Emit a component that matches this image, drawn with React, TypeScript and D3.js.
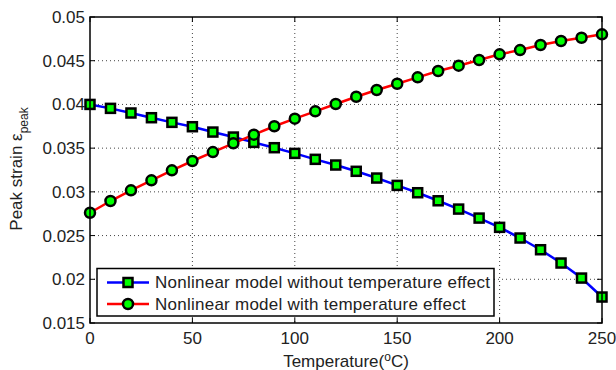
import React from "react";
import * as d3 from "d3";

const temps = [0, 10, 20, 30, 40, 50, 60, 70, 80, 90, 100, 110, 120, 130, 140, 150, 160, 170, 180, 190, 200, 210, 220, 230, 240, 250];
const withoutTemp = [0.0400, 0.03955, 0.03902, 0.03848, 0.03795, 0.03745, 0.03684, 0.03627, 0.03566, 0.03505, 0.0344, 0.03372, 0.03307, 0.03235, 0.03158, 0.03074, 0.0299, 0.02898, 0.02803, 0.027, 0.02594, 0.02472, 0.02338, 0.02186, 0.02014, 0.01797];
const withTemp = [0.02761, 0.02895, 0.03017, 0.03132, 0.03246, 0.03353, 0.03455, 0.03555, 0.03654, 0.0375, 0.03837, 0.03921, 0.04005, 0.04088, 0.04165, 0.04237, 0.0431, 0.04382, 0.04443, 0.04508, 0.04573, 0.04622, 0.0468, 0.04725, 0.04763, 0.04802];
const xTicks = [0, 50, 100, 150, 200, 250];
const yTicks = [0.015, 0.02, 0.025, 0.03, 0.035, 0.04, 0.045, 0.05];
const yTickLabels = ["0.015", "0.02", "0.025", "0.03", "0.035", "0.04", "0.045", "0.05"];
const legendLabels = ["Nonlinear model without temperature effect", "Nonlinear model with temperature effect"];

const W = 616, H = 370;
const L = 90, R = 602, T = 17, B = 323;
const FONT = "Liberation Sans, Arial, Helvetica, sans-serif";
const FS = 17;

export default function App() {
  const x = d3.scaleLinear().domain([0, 250]).range([L, R]);
  const y = d3.scaleLinear().domain([0.015, 0.05]).range([B, T]);
  const line = d3.line<number>().x((_, i) => x(temps[i])).y((d) => y(d));
  const tl = 5;
  return (
    <svg width={W} height={H} style={{ position: "absolute", left: 0, top: 0 }} fontFamily={FONT}>
      <rect x={0} y={0} width={W} height={H} fill="#fff" />
      {/* grid */}
      {xTicks.slice(1, -1).map((t) => (
        <line key={"gx" + t} x1={x(t)} x2={x(t)} y1={T} y2={B} stroke="#444" strokeWidth={1} strokeDasharray="1,3" />
      ))}
      {yTicks.slice(1, -1).map((t) => (
        <line key={"gy" + t} x1={L} x2={R} y1={y(t)} y2={y(t)} stroke="#444" strokeWidth={1} strokeDasharray="1,3" />
      ))}
      {/* ticks */}
      {xTicks.map((t) => (
        <g key={"tx" + t}>
          <line x1={x(t)} x2={x(t)} y1={B} y2={B - tl} stroke="#000" />
          <line x1={x(t)} x2={x(t)} y1={T} y2={T + tl} stroke="#000" />
          <text x={x(t)} y={B + 21} textAnchor="middle" fontSize={FS} fill="#222">{t}</text>
        </g>
      ))}
      {yTicks.map((t, i) => (
        <g key={"ty" + t}>
          <line x1={L} x2={L + tl} y1={y(t)} y2={y(t)} stroke="#000" />
          <line x1={R} x2={R - tl} y1={y(t)} y2={y(t)} stroke="#000" />
          <text x={L - 5} y={y(t) + 6} textAnchor="end" fontSize={FS} fill="#222">{yTickLabels[i]}</text>
        </g>
      ))}
      {/* series */}
      <path d={line(withoutTemp) || ""} fill="none" stroke="#0000ff" strokeWidth={2.5} />
      {withoutTemp.map((v, i) => (
        <rect key={"s" + i} x={x(temps[i]) - 4.5} y={y(v) - 4.5} width={9} height={9} fill="#00ff00" stroke="#000" strokeWidth={2.5} />
      ))}
      <path d={line(withTemp) || ""} fill="none" stroke="#ff0000" strokeWidth={2.5} />
      {withTemp.map((v, i) => (
        <circle key={"c" + i} cx={x(temps[i])} cy={y(v)} r={5} fill="#00ff00" stroke="#000" strokeWidth={2.5} />
      ))}
      {/* box */}
      <rect x={L} y={T} width={R - L} height={B - T} fill="none" stroke="#000" strokeWidth={1.5} />
      {/* legend */}
      <g>
        <rect x={97} y={268.5} width={397} height={47.5} fill="#fff" stroke="#000" strokeWidth={1.5} />
        {legendLabels.map((lab, i) => {
          const ly = 282.5 + i * 21.5;
          return (
            <g key={"lg" + i}>
              <line x1={107} x2={149} y1={ly} y2={ly} stroke={i === 0 ? "#0000ff" : "#ff0000"} strokeWidth={2.5} />
              {i === 0 ? (
                <rect x={128 - 4.5} y={ly - 4.5} width={9} height={9} fill="#00ff00" stroke="#000" strokeWidth={2.5} />
              ) : (
                <circle cx={128} cy={ly} r={5} fill="#00ff00" stroke="#000" strokeWidth={2.5} />
              )}
              <text x={155} y={ly + 5.5} fontSize={FS} letterSpacing={0.25} fill="#222">{lab}</text>
            </g>
          );
        })}
      </g>
      {/* axis titles */}
      <text x={(L + R) / 2} y={367} textAnchor="middle" fontSize={FS} fill="#222">
        Temperature(<tspan dy={-6} fontSize={12}>o</tspan><tspan dy={6}>C)</tspan>
      </text>
      <text transform={`translate(21.5,${(T + B) / 2 - 1}) rotate(-90)`} textAnchor="middle" fontSize={FS} fill="#222">
        Peak strain ε<tspan dy={6} fontSize={12}>peak</tspan>
      </text>
    </svg>
  );
}
